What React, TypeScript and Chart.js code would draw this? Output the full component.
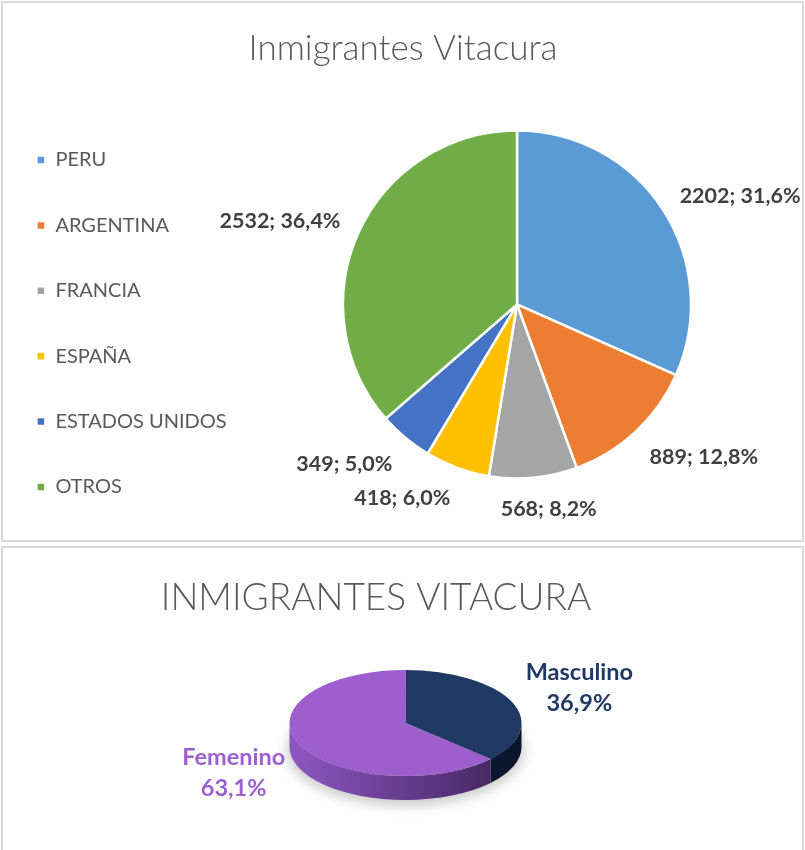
import React, { useEffect, useRef } from "react";
import { Chart, registerables } from "chart.js";

Chart.register(...registerables);

// ---- Data: chart 1 ----
const countries = ["PERU", "ARGENTINA", "FRANCIA", "ESPAÑA", "ESTADOS UNIDOS", "OTROS"];
const immigrants = [2202, 889, 568, 418, 349, 2532];
const countryColors = ["#5B9BD5", "#ED7D31", "#A5A5A5", "#FFC000", "#4472C4", "#70AD47"];

// ---- Data: chart 2 ----
const genders = ["Masculino", "Femenino"];
const genderShares = [36.9, 63.1];
const genderColors = ["#203864", "#9E5FCE"];
const genderSideColors = [
  ["#15284d", "#0a152d"],
  ["#8d57c3", "#3e2157"],
];
const genderLabelColors = ["#203864", "#9E5FCE"];

const FONT = "Lato";
const fmtPct = (v: number, total: number) => ((v / total) * 100).toFixed(1).replace(".", ",");
const clamp1 = (v: number) => Math.max(-1, Math.min(1, v));

// outside-end data labels for the flat pie: the label box touches a point
// a little beyond the arc edge on the slice's mid-angle
const outerLabels = {
  id: "outerLabels",
  afterDatasetsDraw(chart: any) {
    const ctx = chart.ctx;
    const meta = chart.getDatasetMeta(0);
    const data = chart.data.datasets[0].data as number[];
    const total = data.reduce((a, b) => a + b, 0);
    ctx.save();
    ctx.font = `bold 21.5px ${FONT}`;
    ctx.fillStyle = "#404040";
    ctx.textAlign = "center";
    ctx.textBaseline = "middle";
    meta.data.forEach((arc: any, i: number) => {
      const { x, y, startAngle, endAngle, outerRadius } = arc.getProps(
        ["x", "y", "startAngle", "endAngle", "outerRadius"],
        true
      );
      const mid = (startAngle + endAngle) / 2;
      const ux = Math.cos(mid);
      const uy = Math.sin(mid);
      const text = `${data[i]}; ${fmtPct(data[i], total)}%`;
      const w = ctx.measureText(text).width;
      const gap = 20;
      const ax = x + (outerRadius + gap) * ux;
      const ay = y + (outerRadius + gap) * uy;
      const px = ax + (w / 2) * clamp1(3 * ux);
      const py = ay + 7 * clamp1(3 * uy) + 4;
      ctx.fillText(text, px, py);
    });
    ctx.restore();
  },
};

const SQUASH = 0.457;
const DEPTH = 24;

// pseudo-3D rendering: shadow + extruded side, then squash the top faces
const pie3d = {
  id: "pie3d",
  beforeDatasetsDraw(chart: any) {
    const ctx = chart.ctx;
    const arcs = chart.getDatasetMeta(0).data;
    ctx.save();
    if (!arcs.length) return;
    const { x: cx, y: cy, outerRadius: r } = arcs[0].getProps(["x", "y", "outerRadius"], true);
    const ry = r * SQUASH;
    // soft shadow
    ctx.save();
    ctx.filter = "blur(6px)";
    ctx.fillStyle = "rgba(0,0,0,0.20)";
    ctx.beginPath();
    ctx.ellipse(cx, cy + DEPTH + 3, r + 3, ry + 3, 0, 0, Math.PI * 2);
    ctx.fill();
    ctx.restore();
    // sides
    arcs.forEach((arc: any, i: number) => {
      const { startAngle, endAngle } = arc.getProps(["startAngle", "endAngle"], true);
      for (const shift of [-2 * Math.PI, 0, 2 * Math.PI]) {
        const a1 = Math.max(startAngle + shift, 0);
        const a2 = Math.min(endAngle + shift, Math.PI);
        if (a2 <= a1) continue;
        const grad = ctx.createLinearGradient(cx - r, 0, cx + r, 0);
        grad.addColorStop(0, genderSideColors[i][0]);
        grad.addColorStop(1, genderSideColors[i][1]);
        ctx.fillStyle = grad;
        ctx.beginPath();
        ctx.ellipse(cx, cy, r, ry, 0, a1, a2);
        ctx.ellipse(cx, cy + DEPTH, r, ry, 0, a2, a1, true);
        ctx.closePath();
        ctx.fill();
      }
    });
    ctx.translate(0, cy);
    ctx.scale(1, SQUASH);
    ctx.translate(0, -cy);
  },
  afterDatasetsDraw(chart: any) {
    chart.ctx.restore();
  },
};

const pie3dLabels = {
  id: "pie3dLabels",
  afterDraw(chart: any) {
    const ctx = chart.ctx;
    const meta = chart.getDatasetMeta(0);
    const data = chart.data.datasets[0].data as number[];
    const labels = chart.data.labels as string[];
    const total = data.reduce((a, b) => a + b, 0);
    ctx.save();
    ctx.font = `bold 23.5px ${FONT}`;
    ctx.textAlign = "center";
    ctx.textBaseline = "middle";
    meta.data.forEach((arc: any, i: number) => {
      const { x, y, startAngle, endAngle, outerRadius } = arc.getProps(
        ["x", "y", "startAngle", "endAngle", "outerRadius"],
        true
      );
      const mid = (startAngle + endAngle) / 2;
      const ux = Math.cos(mid);
      const uy = Math.sin(mid);
      const ex = x + outerRadius * ux;
      const ey = y + outerRadius * SQUASH * uy + Math.max(0, uy) * DEPTH;
      const l1 = labels[i];
      const l2 = `${fmtPct(data[i], total)}%`;
      const w = Math.max(ctx.measureText(l1).width, ctx.measureText(l2).width);
      const h = 42;
      const g = 20;
      const px = ex + g * ux + (ux * w) / 2;
      const py = ey + g * uy + (uy * h) / 2 + 2.5;
      ctx.fillStyle = genderLabelColors[i];
      ctx.fillText(l1, px, py - 15.5);
      ctx.fillText(l2, px, py + 15.5);
    });
    ctx.restore();
  },
};

export default function App() {
  const topRef = useRef<HTMLCanvasElement>(null);
  const botRef = useRef<HTMLCanvasElement>(null);

  useEffect(() => {
    const c1 = new Chart(topRef.current as HTMLCanvasElement, {
      type: "pie",
      data: {
        labels: countries,
        datasets: [
          {
            data: immigrants,
            backgroundColor: countryColors,
            borderColor: "#ffffff",
            borderWidth: 2.5,
          },
        ],
      },
      options: {
        responsive: false,
        animation: false,
        radius: 174,
        layout: { padding: { top: 0, bottom: 3.6, left: 0, right: 0 } },
        plugins: {
          title: {
            display: true,
            text: "Inmigrantes Vitacura",
            color: "#595959",
            font: { family: FONT, size: 35, weight: "300", lineHeight: 1 },
            padding: { top: 31.5, bottom: 0 },
          },
          // empty right-hand spacer so the pie sits right of the title's centre
          subtitle: {
            display: true,
            position: "right",
            text: "",
            font: { size: 15, lineHeight: 1 },
            padding: 0,
          },
          legend: {
            position: "left",
            align: "end",
            maxWidth: 243,
            labels: {
              boxWidth: 9,
              boxHeight: 9,
              padding: 45.4,
              color: "#595959",
              font: { family: FONT, size: 20 },
            },
          },
          tooltip: { enabled: false },
        },
      } as any,
      plugins: [outerLabels],
    });

    const c2 = new Chart(botRef.current as HTMLCanvasElement, {
      type: "pie",
      data: {
        labels: genders,
        datasets: [{ data: genderShares, backgroundColor: genderColors, borderWidth: 0 }],
      },
      options: {
        responsive: false,
        animation: false,
        radius: 116,
        layout: { padding: { top: 0, bottom: 30.5, left: 0, right: 0 } },
        plugins: {
          title: {
            display: true,
            text: "INMIGRANTES VITACURA",
            color: "#595959",
            font: { family: FONT, size: 37, weight: "300", lineHeight: 1 },
            padding: { top: 32, bottom: 9.5 },
          },
          legend: {
            display: true,
            position: "left",
            labels: { padding: 49, filter: () => false },
          },
          tooltip: { enabled: false },
        },
      } as any,
      plugins: [pie3d, pie3dLabels],
    });

    return () => {
      c1.destroy();
      c2.destroy();
    };
  }, []);

  return (
    <div
      style={{
        position: "fixed",
        left: 0,
        top: 0,
        width: 805,
        height: 850,
        overflow: "hidden",
        background: "#ffffff",
      }}
    >
      <div
        style={{
          position: "absolute",
          left: 1,
          top: 1,
          width: 803,
          height: 541,
          border: "2px solid #d9d9d9",
          boxSizing: "border-box",
        }}
      />
      <div
        style={{
          position: "absolute",
          left: 1,
          top: 546,
          width: 803,
          height: 330,
          border: "2px solid #d9d9d9",
          boxSizing: "border-box",
        }}
      />
      <canvas
        ref={topRef}
        width={824}
        height={546}
        style={{ position: "absolute", left: -9, top: 0, display: "block" }}
      />
      <canvas
        ref={botRef}
        width={752}
        height={302}
        style={{ position: "absolute", left: 0, top: 548, display: "block" }}
      />
    </div>
  );
}
